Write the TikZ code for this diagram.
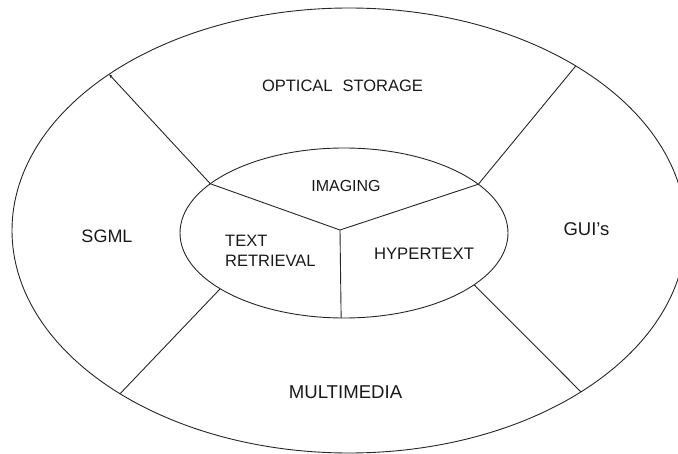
\documentclass[tikz,border=0pt]{standalone}
\usepackage{fontspec}
\setmainfont{Liberation Sans}
\usetikzlibrary{arrows.meta,shapes.geometric,calc}
\begin{document}
\begin{tikzpicture}[x=1pt,y=-1pt,
  ring/.style={ellipse,draw=black!85,line width=0.9pt,inner sep=0pt},
  spoke/.style={draw=black!85,line width=0.9pt},
  lbl/.style={inner sep=0pt,anchor=base,text=black!90}]
\useasboundingbox (0,0) rectangle (678,454);
\clip (0,0) rectangle (678,454);
% rings
\node[ring,minimum width=674pt,minimum height=445pt] (outer) at (349,230.5) {};
\node[ring,minimum width=328pt,minimum height=170pt] (inner) at (344,233) {};
% spoke end points
\coordinate (j) at (340,230);
\coordinate (i1) at ($(inner.center)+(215.4:164 and 85)$);
\coordinate (i2) at ($(inner.center)+(325:164 and 85)$);
\coordinate (i3) at ($(inner.center)+(91:164 and 85)$);
\coordinate (i4) at ($(inner.center)+(139:164 and 85)$);
\coordinate (i5) at ($(inner.center)+(37.5:164 and 85)$);
\coordinate (o1) at ($(outer.center)+(224.6:337 and 222.5)$);
\coordinate (o2) at ($(outer.center)+(312.3:337 and 222.5)$);
\coordinate (o3) at ($(outer.center)+(132.8:337 and 222.5)$);
\coordinate (o4) at ($(outer.center)+(46.5:337 and 222.5)$);
% spokes
\draw[spoke,-{Stealth[length=4pt,width=3pt]}] (i1) -- (o1);
\draw[spoke] (i1) -- (j) -- (i2);
\draw[spoke] (j) -- (i3);
\draw[spoke] (i2) -- (o2);
\draw[spoke] (i4) -- (o3);
\draw[spoke] (i5) -- (o4);
% labels
\node[lbl,font=\fontsize{16.5}{20}\selectfont] (opt) at (342.5,92) {OPTICAL\hspace{10pt}STORAGE};
\node[lbl,font=\fontsize{16}{20}\selectfont] (img) at (346,192) {IMAGING};
\node[lbl,font=\fontsize{18}{22}\selectfont] (sgml) at (107,243) {SGML};
\node[lbl,font=\fontsize{18.5}{22}\selectfont] (gui) at (586.5,236) {GUI\char"0027 s};
\node[inner sep=0pt,anchor=north west,align=left,text=black!90,font=\fontsize{16.5}{20}\selectfont] (txt) at (225,235) {TEXT\\RETRIEVAL};
\node[lbl,font=\fontsize{16.7}{20}\selectfont] (hyp) at (424,260) {HYPERTEXT};
\node[lbl,font=\fontsize{18.6}{22}\selectfont] (mm) at (345.5,399) {MULTIMEDIA};
\end{tikzpicture}
\end{document}
